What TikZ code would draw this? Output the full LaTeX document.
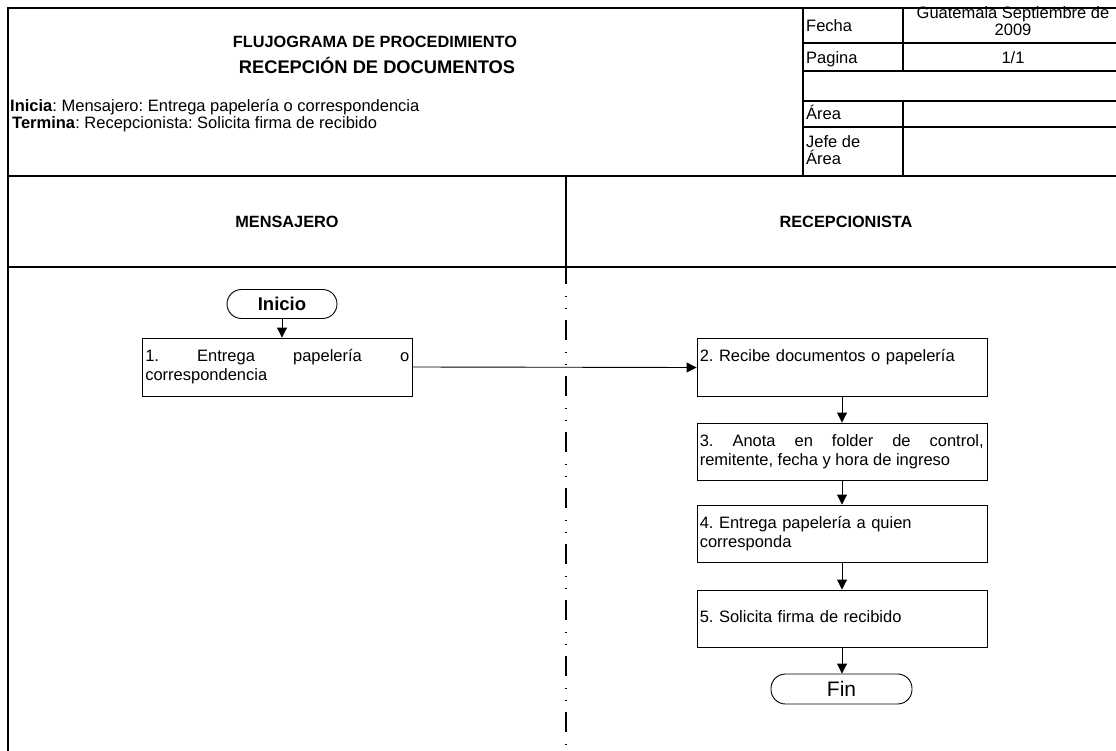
\documentclass[tikz,border=0pt]{standalone}
\usepackage{fontspec}
\setmainfont{Liberation Sans}
\usetikzlibrary{arrows.meta}
\frenchspacing
\begin{document}
\begin{tikzpicture}[x=1pt,y=-1pt,
  frame/.style={line width=2.5pt},
  gridline/.style={line width=2pt},
  lanesep/.style={line width=2.3pt, dash pattern=on 20pt off 12pt on 1pt off 11pt on 1pt off 11pt, dash phase=3pt},
  stepbox/.style={draw, line width=0.9pt, rectangle, inner sep=0pt},
  terminal/.style={draw, line width=0.9pt, rectangle, rounded corners=14.5pt, inner sep=0pt},
  flow/.style={line width=0.9pt, -{Triangle[length=10pt,width=10pt]}},
  body/.style={font=\fontsize{16.5}{19.5}\selectfont, inner sep=0pt},
  heading/.style={font=\fontsize{16.3}{19}\selectfont\bfseries, inner sep=0pt, anchor=base},
  boxtext/.style={body, anchor=north west},
]
\useasboundingbox (0,0) rectangle (1116,751);

% outer frame and section rules
\draw[frame] (8,751) -- (8,8) -- (1116,8);
\draw[frame] (8,176) -- (1116,176);
\draw[frame] (8,267) -- (1116,267);
\draw[frame] (566,176) -- (566,267);
\draw[lanesep] (566,267) -- (566,751);

% data table at the top right
\draw[gridline] (803,8) -- (803,176);
\draw[gridline] (903,8) -- (903,71);
\draw[gridline] (903,101) -- (903,176);
\foreach \yy in {43,71,101,127} \draw[gridline] (803,\yy) -- (1116,\yy);

\node[body, anchor=base west] (lfecha) at (806,31.5) {Fecha};
\node[body, anchor=base] (vfecha1) at (1013,18.5) {Guatemala Septiembre de};
\node[body, anchor=base] (vfecha2) at (1013,35.5) {2009};
\node[body, anchor=base west] (lpag) at (806,63.5) {Pagina};
\node[body, anchor=base] (vpag) at (1013,63.5) {1/1};
\node[body, anchor=base west] (larea) at (806,120) {Área};
\node[body, anchor=base west] (ljefe1) at (806,147.5) {Jefe de};
\node[body, anchor=base west] (ljefe2) at (806,165) {Área};

% title block
\node[heading] (title1) at (375,47.5) {FLUJOGRAMA DE PROCEDIMIENTO};
\node[heading, font=\fontsize{18.3}{21}\selectfont\bfseries] (title2) at (377,73.5) {RECEPCIÓN DE DOCUMENTOS};
\node[body, anchor=base west] (inicia) at (10,111.5) {\textbf{Inicia}: Mensajero: Entrega papelería o correspondencia};
\node[body, anchor=base west] (termina) at (12,128.5) {\textbf{Termina}: Recepcionista: Solicita firma de recibido};

% lane headers
\node[heading] (lane1) at (287,227.5) {MENSAJERO};
\node[heading] (lane2) at (846,227.5) {RECEPCIONISTA};

% flow
\node[terminal, minimum width=110pt, minimum height=29pt, font=\fontsize{18.5}{20}\selectfont\bfseries] (inicio) at (282,304) {Inicio};
\node[stepbox, minimum width=270pt, minimum height=58pt] (b1) at (277.5,367) {};
\node[stepbox, minimum width=290pt, minimum height=58pt] (b2) at (842,367.5) {};
\node[stepbox, minimum width=290pt, minimum height=57pt] (b3) at (842,451.5) {};
\node[stepbox, minimum width=290pt, minimum height=57pt] (b4) at (842,533.5) {};
\node[stepbox, minimum width=290pt, minimum height=57pt] (b5) at (842,618.5) {};
\node[terminal, minimum width=141pt, minimum height=30pt, font=\fontsize{21}{23}\selectfont] (fin) at (841.5,689) {Fin};

\node[boxtext, text width=264pt, align=justify] (t1) at ([xshift=3pt,yshift=-10pt]b1.north west)
  {\strut 1. Entrega papelería o\linebreak correspondencia};
\node[boxtext, text width=284pt, align=left] (t2) at ([xshift=3pt,yshift=-10pt]b2.north west)
  {\strut 2. Recibe documentos o papelería};
\node[boxtext, text width=284pt, align=justify] (t3) at ([xshift=3pt,yshift=-10pt]b3.north west)
  {\strut 3. Anota en folder de control,\linebreak remitente, fecha y hora de ingreso};
\node[boxtext, text width=284pt, align=left] (t4) at ([xshift=3pt,yshift=-10pt]b4.north west)
  {\strut 4. Entrega papelería a quien\\ corresponda};
\node[boxtext, text width=284pt, align=left] (t5) at ([xshift=3pt,yshift=-19pt]b5.north west)
  {\strut 5. Solicita firma de recibido};

\draw[flow] (inicio.south) -- (inicio.south |- b1.north);
\draw[flow] (b1.east) -- (b2.west);
\draw[flow] (b2.south) -- (b3.north);
\draw[flow] (b3.south) -- (b4.north);
\draw[flow] (b4.south) -- (b5.north);
\draw[flow] (b5.south) -- (b5.south |- fin.north);
\end{tikzpicture}
\end{document}
